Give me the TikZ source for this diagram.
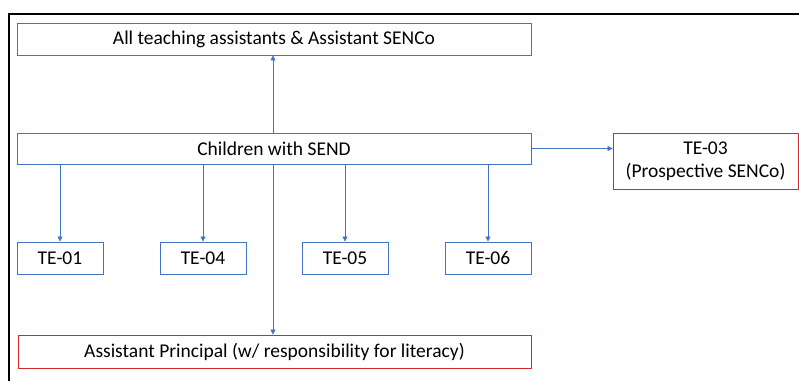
\documentclass[tikz,border=0pt]{standalone}
\usepackage{fontspec}
\setmainfont{Carlito}
\usetikzlibrary{arrows.meta}
\definecolor{boxblue}{RGB}{68,114,196}
\definecolor{boxred}{RGB}{214,40,40}
\begin{document}
\begin{tikzpicture}[x=1pt,y=-1pt,
  bbox/.style={draw=boxblue,line width=0.9pt,inner sep=0pt,font=\fontsize{19.5}{23.5}\selectfont,align=center},
  rbox/.style={bbox,draw=boxred},
  conn/.style={draw=boxblue,line width=0.8pt,-{Triangle[width=5pt,length=5pt]}}]
\useasboundingbox (0,0) rectangle (799,381);
\draw[line width=2pt] (8.5,381) -- (8.5,13.5) -- (799,13.5);
% boxes
\node[bbox,minimum width=514pt,minimum height=32pt] (top) at (274,39) {All teaching assistants \& Assistant SENCo};
\node[bbox,minimum width=514pt,minimum height=31pt] (send) at (274,148.5) {Children with SEND};
\node[rbox,minimum width=185pt,minimum height=56pt] (te03) at (705.5,161) {TE-03\\(Prospective SENCo)};
\node[bbox,minimum width=86pt,minimum height=32pt] (te01) at (60,258) {TE-01};
\node[bbox,minimum width=86pt,minimum height=32pt] (te04) at (203,258) {TE-04};
\node[bbox,minimum width=86pt,minimum height=32pt] (te05) at (345,258) {TE-05};
\node[bbox,minimum width=86pt,minimum height=32pt] (te06) at (488,258) {TE-06};
\node[rbox,minimum width=513pt,minimum height=33pt] (ap) at (274.5,351.5) {Assistant Principal (w/ responsibility for literacy)};
% connectors
\draw[conn] (send.north -| 273,0) -- (top.south -| 273,0);
\draw[conn] (send.south -| 273,0) -- (ap.north -| 273,0);
\draw[conn] (send.east) -- (te03.west |- send.east);
\draw[conn] (send.south -| te01.north) -- (te01.north);
\draw[conn] (send.south -| te04.north) -- (te04.north);
\draw[conn] (send.south -| te05.north) -- (te05.north);
\draw[conn] (send.south -| te06.north) -- (te06.north);
\end{tikzpicture}
\end{document}
